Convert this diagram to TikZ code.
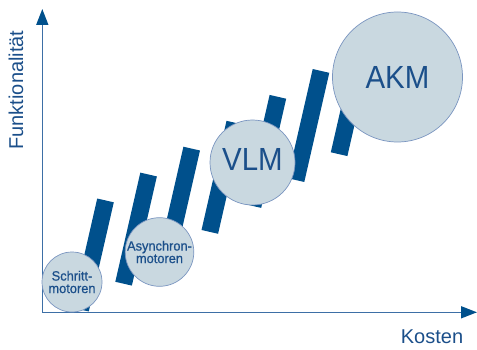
\documentclass[tikz,border=0pt]{standalone}
\usepackage{fontspec}
\setmainfont{Liberation Sans}
\usetikzlibrary{arrows.meta}
\definecolor{barblue}{HTML}{00508C}
\definecolor{axisblue}{HTML}{3D6FA6}
\definecolor{txtblue}{HTML}{1B4F8A}
\definecolor{circfill}{HTML}{C9D8E0}
\definecolor{circline}{HTML}{7A95C0}
\tikzset{
  bar/.style={fill=barblue, draw=none, minimum width=17pt, minimum height=112pt, inner sep=0pt, rotate=-12.9},
  motor/.style={circle, fill=circfill, draw=circline, line width=0.7pt, inner sep=0pt, text=txtblue, align=center},
  small/.style={font=\fontsize{13.5}{12.5}\addfontfeature{FakeStretch=0.95,FakeBold=0.6}\selectfont},
  big/.style={font=\fontsize{32}{34}\addfontfeature{FakeStretch=0.92}\selectfont},
  axis/.style={draw=axisblue, line width=1.6pt, -{Triangle[length=16pt,width=12pt,color=barblue]}},
  axlabel/.style={text=txtblue, font=\fontsize{20}{22}\selectfont, inner sep=0pt}
}
\begin{document}
\begin{tikzpicture}[x=1pt,y=-1pt]
\useasboundingbox (0,0) rectangle (477,350);
% bars
\foreach \i in {0,...,6} {
  \node[bar] (bar\i) at ({93+43.1*\i},{255-25.9*\i}) {};
}
% axes
\coordinate (O) at (42.3,312.3);
\coordinate (Ytip) at (42.3,9);
\coordinate (Xtip) at (477,312.3);
\draw[axis] (O) -- (Ytip);
\draw[axis] (O) -- (Xtip);
% circles
\node[motor, small, minimum size=60pt] (schritt) at (72,282) {Schritt-\\motoren};
\node[motor, small, minimum size=67pt] (asyn) at (159.5,252) {Asynchron-\\motoren};
\node[motor, minimum size=85pt] (vlm) at (252.5,162.5) {};
\node[text=txtblue, big, inner sep=0pt] (vlmt) at (252.5,159) {VLM};
\node[motor, minimum size=130pt] (akm) at (397.5,77) {};
\node[text=txtblue, big, inner sep=0pt] (akmt) at (397.5,77) {AKM};
% axis labels
\node[axlabel, rotate=90] (ylab) at (16,90) {Funktionalität};
\node[axlabel] (xlab) at (432,337) {Kosten};
\end{tikzpicture}
\end{document}
